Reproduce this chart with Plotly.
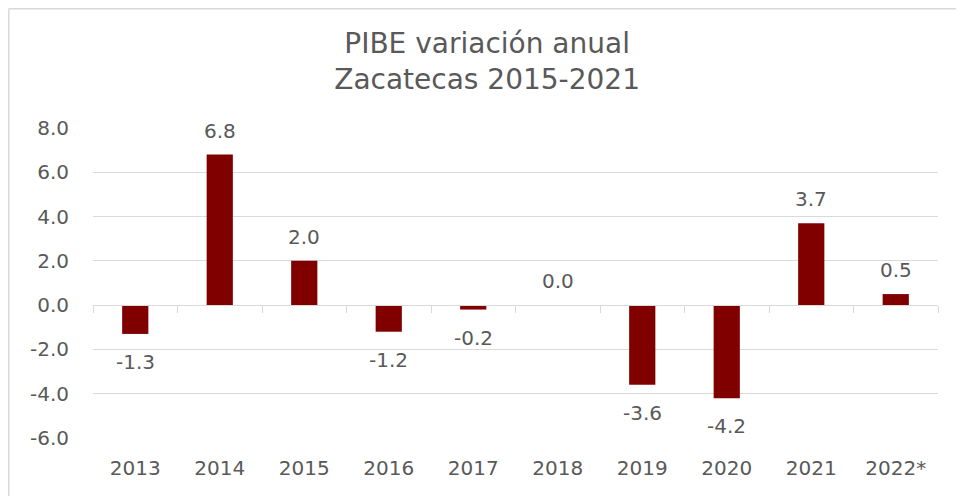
import plotly.graph_objects as go

years = ["2013", "2014", "2015", "2016", "2017", "2018", "2019", "2020", "2021", "2022*"]
values = [-1.3, 6.8, 2.0, -1.2, -0.2, 0.0, -3.6, -4.2, 3.7, 0.5]
y_ticks = [-6, -4, -2, 0, 2, 4, 6, 8]
y_tick_labels = ["-6.0", "-4.0", "-2.0", "0.0", "2.0", "4.0", "6.0", "8.0"]
title_text = "PIBE variación anual<br>Zacatecas 2015-2021"

FONT = "DejaVu Sans"
TXT = "#595959"
GRID = "#d9d9d9"
BAR = "#800000"

fig = go.Figure()
fig.add_trace(go.Bar(
    x=years, y=values,
    marker=dict(color=BAR, line=dict(width=0)),
    width=0.31,
    showlegend=False,
))
# invisible trace to carry the zero-line axis with boundary ticks
fig.add_trace(go.Scatter(
    x=years, y=values, xaxis="x2", mode="markers",
    marker=dict(opacity=0), hoverinfo="skip", showlegend=False,
))

annotations = []
for i, v in enumerate(values):
    annotations.append(dict(
        x=i, y=v, xref="x", yref="y", text=f"{v:.1f}", showarrow=False,
        yshift=-28 if v < 0 else 24, yanchor="middle",
        font=dict(family=FONT, size=20, color=TXT),
    ))

ymin, ymax = -6, 8
bx = (0.75 - 85) / 845
by = 1 + (120 - 0.75) / 310
fig.update_layout(
    width=964, height=496,
    margin=dict(l=85, r=34, t=120, b=66),
    paper_bgcolor="white", plot_bgcolor="white",
    font=dict(family=FONT, color=TXT),
    title=dict(text=title_text, x=0.497, xanchor="center", y=0.910, yanchor="middle",
               yref="container", font=dict(family=FONT, size=28, color=TXT)),
    xaxis=dict(type="category", categoryorder="array", categoryarray=years,
               range=[-0.5, len(years) - 0.5],
               showgrid=False, zeroline=False, showline=False,
               ticks="outside", ticklen=12, tickcolor="rgba(0,0,0,0)",
               tickfont=dict(family=FONT, size=20, color=TXT)),
    xaxis2=dict(type="category", categoryorder="array", categoryarray=years,
                range=[-0.5, len(years) - 0.5], overlaying="x",
                anchor="free", position=(0 - ymin) / (ymax - ymin),
                showgrid=False, zeroline=False, showline=True, linecolor=GRID, linewidth=1.3,
                ticks="outside", ticklen=7, tickcolor=GRID, tickwidth=1.3,
                tickson="boundaries", showticklabels=False),
    yaxis=dict(range=[ymin, ymax], tickvals=y_ticks, ticktext=y_tick_labels,
               showgrid=True, gridcolor=GRID, gridwidth=1.3, zeroline=False,
               showline=False, ticks="outside", ticklen=19, tickcolor="rgba(0,0,0,0)",
               tickfont=dict(family=FONT, size=20, color=TXT)),
    annotations=annotations,
    shapes=[
        dict(type="line", xref="paper", yref="paper", x0=bx, x1=bx, y0=-0.3, y1=by,
             line=dict(color=GRID, width=1.5), layer="above"),
        dict(type="line", xref="paper", yref="paper", x0=bx, x1=1.1, y0=by, y1=by,
             line=dict(color=GRID, width=1.5), layer="above"),
    ],
)

fig.write_html("out.html")
